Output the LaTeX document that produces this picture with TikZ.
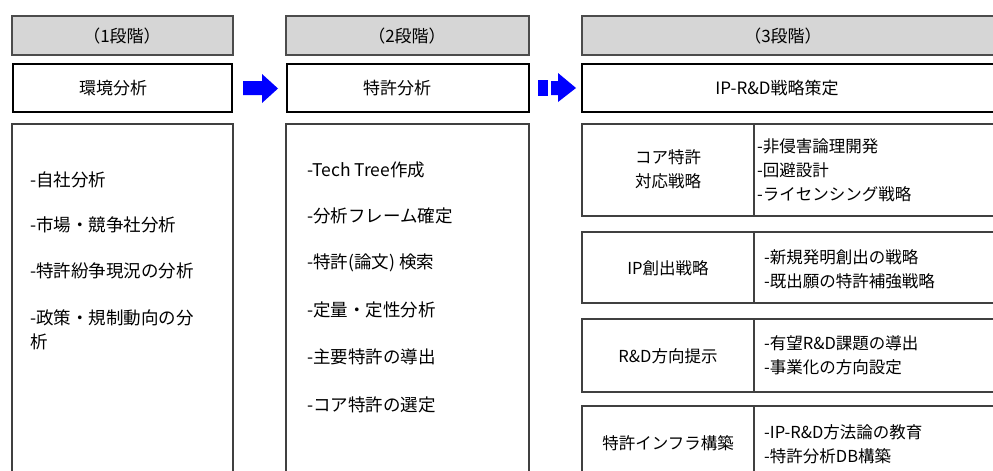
\documentclass[tikz,border=0pt]{standalone}
\usepackage{fontspec}
\newfontfamily\jp{Noto Sans CJK JP}
\begin{document}
\begin{tikzpicture}[x=1pt,y=-1pt]
\tikzset{
 stage/.style={draw=black!70, line width=1.2pt, fill=black!16},
 titlebox/.style={draw=black, line width=2.6pt},
 bodybox/.style={draw=black!75, line width=1.3pt},
 txt/.style={font=\jp\fontsize{17}{24}\selectfont, inner sep=0pt},
 item/.style={txt, font=\jp\fontsize{17.5}{24}\selectfont, anchor=west, align=left},
 subtxt/.style={txt, font=\jp\fontsize{16.5}{24}\selectfont},
 subitem/.style={subtxt, anchor=west, align=left},
 blockarrow/.style={fill=blue, draw=none}
}
\useasboundingbox (0,0) rectangle (993,471);
\clip (0,0) rectangle (993,471);
\fill[white] (0,0) rectangle (993,471);
% stage headers
\draw[stage] (12,16) rectangle (233,55);
\draw[stage] (286,16) rectangle (529,55);
\draw[stage] (582,16) rectangle (1010,55);
\node[txt] (s1) at (122,36) {（1段階）};
\node[txt] (s2) at (407,36) {（2段階）};
\node[txt] (s3) at (783,36) {（3段階）};
% title boxes
\draw[titlebox] (13,64) rectangle (232,112);
\draw[titlebox] (287,64) rectangle (529,112);
\draw[titlebox] (582,64) rectangle (1010,112);
\node[txt] (t1) at (113,88) {環境分析};
\node[txt] (t2) at (397,88) {特許分析};
\node[txt] (t3) at (777,88) {IP-R\&D戦略策定};
% arrows
\fill[blockarrow] (243,81) -- (262,81) -- (262,74) -- (278,88.5) -- (262,103) -- (262,95) -- (243,95) -- cycle;
\fill[blockarrow] (538,80) rectangle (548,96);
\fill[blockarrow] (551,81) -- (558,81) -- (558,73) -- (576,88) -- (558,102) -- (558,95) -- (551,95) -- cycle;
% body boxes
\draw[bodybox] (12,124) rectangle (233,480);
\draw[bodybox] (286,124) rectangle (529,480);
\node[item] (a1) at (30,180) {-自社分析};
\node[item] (a2) at (30,225) {-市場・競争社分析};
\node[item] (a3) at (30,271) {-特許紛争現況の分析};
\node[item] (a4) at (30,330) {-政策・規制動向の分\\析};
\node[item] (b1) at (307,170) {-Tech Tree作成};
\node[item] (b2) at (307,216) {-分析フレーム確定};
\node[item] (b3) at (307,263) {-特許(論文) 検索};
\node[item] (b4) at (307,310) {-定量・定性分析};
\node[item] (b5) at (307,357) {-主要特許の導出};
\node[item] (b6) at (307,405) {-コア特許の選定};
% stage 3 sub boxes
\draw[bodybox] (582,124) rectangle (1010,216);
\draw[bodybox] (754,124) -- (754,216);
\draw[bodybox] (582,232) rectangle (1010,303);
\draw[bodybox] (754,232) -- (754,303);
\draw[bodybox] (582,319) rectangle (1010,392);
\draw[bodybox] (754,319) -- (754,392);
\draw[bodybox] (582,406) rectangle (1010,480);
\draw[bodybox] (754,406) -- (754,480);
\node[subtxt, align=center] (c1) at (668,169) {コア特許\\対応戦略};
\node[subtxt] (c2) at (668,268) {IP創出戦略};
\node[subtxt] (c3) at (668,356) {R\&D方向提示};
\node[subtxt] (c4) at (668,443) {特許インフラ構築};
\node[subitem] (d1) at (757,170) {-非侵害論理開発\\-回避設計\\-ライセンシング戦略};
\node[subitem] (d2) at (764,269.5) {-新規発明創出の戦略\\-既出願の特許補強戦略};
\node[subitem] (d3) at (764,355) {-有望R\&D課題の導出\\-事業化の方向設定};
\node[subitem] (d4) at (764,444) {-IP-R\&D方法論の教育\\-特許分析DB構築};
\end{tikzpicture}
\end{document}
